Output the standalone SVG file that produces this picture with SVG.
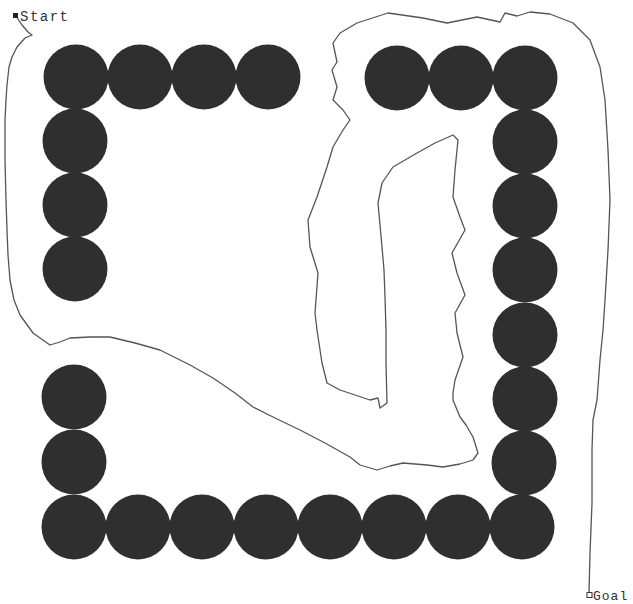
<svg xmlns="http://www.w3.org/2000/svg" width="633" height="604" viewBox="0 0 633 604">
<style>
.obs{fill:#2f2f2f}
.path{fill:none;stroke:#555;stroke-width:1.3;stroke-linejoin:round}
.lbl{font-family:"Liberation Mono","DejaVu Sans Mono",monospace;font-size:14px;letter-spacing:1.5px;fill:#333}
</style>
<rect width="633" height="604" fill="#fff"/>
<g id="obstacles">
<circle class="obs" cx="76" cy="77" r="32.5"/>
<circle class="obs" cx="140" cy="77" r="32.5"/>
<circle class="obs" cx="204" cy="77" r="32.5"/>
<circle class="obs" cx="268" cy="77" r="32.5"/>
<circle class="obs" cx="75" cy="141" r="32.5"/>
<circle class="obs" cx="75" cy="205" r="32.5"/>
<circle class="obs" cx="75" cy="269" r="32.5"/>
<circle class="obs" cx="74" cy="397" r="32.5"/>
<circle class="obs" cx="74" cy="462" r="32.5"/>
<circle class="obs" cx="397" cy="78" r="32.5"/>
<circle class="obs" cx="461" cy="78" r="32.5"/>
<circle class="obs" cx="525" cy="78" r="32.5"/>
<circle class="obs" cx="525" cy="142" r="32.5"/>
<circle class="obs" cx="525" cy="206" r="32.5"/>
<circle class="obs" cx="525" cy="270" r="32.5"/>
<circle class="obs" cx="525" cy="335" r="32.5"/>
<circle class="obs" cx="525" cy="399" r="32.5"/>
<circle class="obs" cx="524" cy="463" r="32.5"/>
<circle class="obs" cx="74" cy="527" r="32.5"/>
<circle class="obs" cx="138" cy="527" r="32.5"/>
<circle class="obs" cx="202" cy="527" r="32.5"/>
<circle class="obs" cx="266" cy="527" r="32.5"/>
<circle class="obs" cx="330" cy="527" r="32.5"/>
<circle class="obs" cx="394" cy="527" r="32.5"/>
<circle class="obs" cx="458" cy="527" r="32.5"/>
<circle class="obs" cx="522" cy="527" r="32.5"/>
</g>
<g id="connectors">
<path id="robot-path" class="path" d="M16,16 L22,25 L28,32 L32,35 L25,38 L17,47 L12,57 L9,67 L7,85 L6,100 L5,120 L5,160 L6,200 L7,230 L8,255 L10,280 L14,300 L20,315 L33,333 L50,345 L60,342 L70,338 L90,337 L110,337 L135,343 L160,350 L190,365 L213,378 L235,393 L253,407 L275,418 L300,430 L325,443 L350,457 L360,465 L377,470 L390,466 L403,463 L427,465 L443,467 L460,464 L473,460 L478,453 L473,437 L466,425 L460,417 L453,400 L453,393 L455,380 L463,357 L457,333 L455,313 L465,295 L457,273 L452,253 L465,230 L460,217 L453,197 L455,170 L458,140 L453,135 L435,143 L417,153 L393,167 L382,183 L378,203 L380,225 L382,247 L384,270 L385,297 L386,330 L386,363 L387,403 L380,408 L378,398 L370,400 L355,395 L340,390 L327,383 L322,363 L317,330 L315,313 L318,273 L310,247 L308,220 L317,197 L327,167 L333,147 L343,130 L350,120 L343,110 L333,100 L337,87 L332,70 L337,62 L333,43 L340,33 L357,23 L388,13 L423,18 L447,23 L477,17 L500,22 L505,13 L517,16 L530,12 L550,14 L573,23 L590,40 L600,67 L605,100 L608,150 L610,200 L608,250 L605,300 L603,330 L600,360 L597,400 L593,420 L592,450 L592,503 L590,553 L589,593"/>
</g>
<g id="start">
<rect x="13" y="13" width="5" height="5" fill="#222"/>
<text class="lbl" x="20" y="21">Start</text>
</g>
<g id="goal">
<rect x="587" y="592.5" width="5" height="5" fill="#fff" stroke="#333" stroke-width="1"/>
<text class="lbl" x="593" y="600" style="font-size:13px;letter-spacing:1px">Goal</text>
</g>
</svg>
